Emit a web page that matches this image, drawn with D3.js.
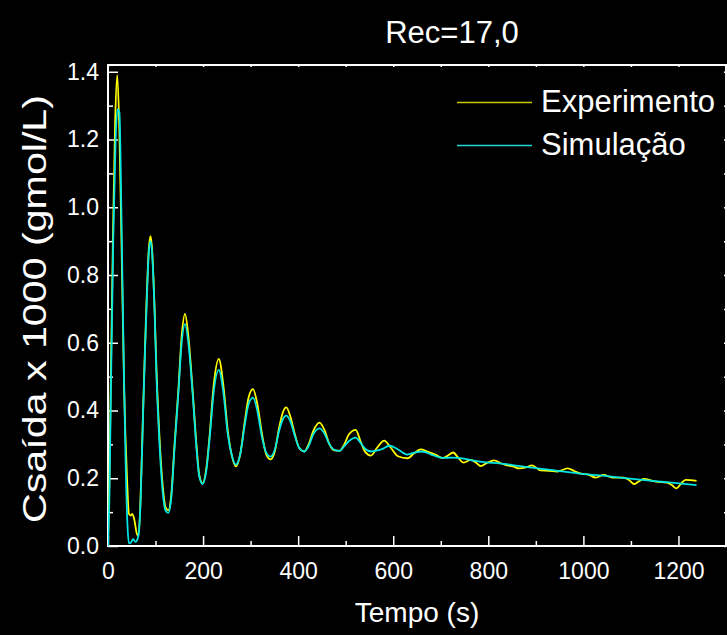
<!DOCTYPE html>
<html>
<head>
<meta charset="utf-8">
<script src="https://cdn.jsdelivr.net/npm/d3@7"></script>
<style>
  body { margin: 0; background: #000; }
  text { font-family: "Liberation Sans", Arial, sans-serif; fill: #fff; }
</style>
</head>
<body>
<div id="chart"></div>
<script>
// Rec=17,0 - experimento x simulação
var title = "Rec=17,0";
var seriesNames = ["Experimento", "Simulação"];

var timeExp = [0, 3, 6, 11, 15, 19.5, 24, 29, 34, 40, 44, 48, 51, 55, 61, 64, 68, 73, 77, 81, 86, 89.5, 93, 98, 102,
  108, 115, 121, 127, 133, 140, 148, 155, 162, 169, 178, 186, 192, 199, 206, 214, 222, 233, 243, 252, 260, 269,
  278, 288, 296, 305, 314, 324, 333, 342, 351, 360, 368, 375, 383, 393, 402, 413, 422, 432, 445, 456, 466, 476,
  487, 497, 507, 521, 531, 541, 553, 566, 581, 595, 610, 630, 645, 658, 672, 690, 704, 716, 726, 737, 748, 763,
  775, 784, 797, 812, 825, 837, 852, 865, 879, 892, 910, 928, 945, 967, 980, 991, 1012, 1026, 1043, 1061, 1085,
  1096, 1107, 1118, 1127, 1152, 1176, 1186, 1196, 1206, 1215, 1238];
var valExp = [0, 0.2, 0.5, 0.96, 1.25, 1.39, 1.22, 0.85, 0.46, 0.2, 0.095, 0.09, 0.095, 0.08, 0.035, 0.03, 0.12,
  0.36, 0.55, 0.72, 0.88, 0.915, 0.87, 0.7, 0.52, 0.33, 0.18, 0.115, 0.105, 0.15, 0.3, 0.46, 0.62, 0.685, 0.62,
  0.46, 0.3, 0.21, 0.185, 0.22, 0.33, 0.47, 0.552, 0.47, 0.34, 0.27, 0.235, 0.27, 0.37, 0.44, 0.463, 0.42, 0.33,
  0.27, 0.256, 0.28, 0.35, 0.395, 0.409, 0.385, 0.33, 0.29, 0.279, 0.3, 0.34, 0.364, 0.34, 0.3, 0.282, 0.281,
  0.3, 0.33, 0.343, 0.31, 0.278, 0.267, 0.29, 0.311, 0.29, 0.265, 0.259, 0.275, 0.285, 0.279, 0.269, 0.26,
  0.268, 0.276, 0.26, 0.246, 0.254, 0.245, 0.236, 0.245, 0.253, 0.245, 0.239, 0.235, 0.229, 0.232, 0.238,
  0.223, 0.222, 0.22, 0.229, 0.222, 0.215, 0.21, 0.202, 0.21, 0.202, 0.202, 0.195, 0.183, 0.192, 0.198, 0.19,
  0.187, 0.18, 0.17, 0.185, 0.195, 0.192];

var timeSim = [0, 3, 6, 11, 16, 20, 24, 28, 33, 37, 41, 44, 48, 53, 58, 62, 65, 69, 74, 78, 82, 86, 89.5, 93, 98,
  102, 108, 115, 121, 127, 133, 140, 148, 155, 162, 169, 178, 186, 192, 199, 206, 214, 222, 233, 243, 252, 260,
  269, 278, 288, 296, 305, 314, 324, 333, 342, 351, 360, 368, 375, 383, 393, 402, 413, 422, 432, 445, 456, 466,
  476, 487, 497, 507, 521, 531, 541, 553, 575, 592, 610, 630, 645, 662, 680, 704, 725, 745, 770, 795, 823, 851,
  886, 930, 998, 1050, 1103, 1170, 1238];
var valSim = [0, 0.15, 0.45, 0.9, 1.2, 1.29, 1.28, 1.0, 0.55, 0.25, 0.06, 0.008, 0.01, 0.02, 0.012, 0.02, 0.04,
  0.15, 0.4, 0.58, 0.74, 0.87, 0.9, 0.86, 0.69, 0.5, 0.31, 0.16, 0.105, 0.098, 0.14, 0.29, 0.45, 0.6, 0.655,
  0.6, 0.45, 0.29, 0.205, 0.183, 0.215, 0.32, 0.45, 0.52, 0.45, 0.33, 0.27, 0.24, 0.27, 0.36, 0.42, 0.438, 0.4,
  0.32, 0.275, 0.264, 0.285, 0.34, 0.375, 0.385, 0.37, 0.325, 0.29, 0.279, 0.295, 0.33, 0.347, 0.33, 0.3, 0.284,
  0.281, 0.295, 0.31, 0.32, 0.305, 0.287, 0.279, 0.285, 0.296, 0.285, 0.27, 0.276, 0.279, 0.27, 0.26, 0.261,
  0.259, 0.252, 0.247, 0.244, 0.239, 0.232, 0.225, 0.213, 0.206, 0.198, 0.189, 0.18];

var xMajor = [0, 200, 400, 600, 800, 1000, 1200];
var xMinor = [100, 300, 500, 700, 900, 1100, 1300];
var yMajor = [0, 0.2, 0.4, 0.6, 0.8, 1.0, 1.2, 1.4];
var yMinor = [0.1, 0.3, 0.5, 0.7, 0.9, 1.1, 1.3];

var width = 727, height = 635;
var plotL = 108, plotR = 726, plotT = 65, plotB = 546;

var svg = d3.select("#chart").append("svg")
  .attr("width", width)
  .attr("height", height)
  .style("background", "#000");

var x = d3.scaleLinear().domain([0, 1300]).range([plotL, plotR]);
var y = d3.scaleLinear().domain([0, 1.42]).range([plotB, plotT]);

// clip
svg.append("clipPath").attr("id", "plot")
  .append("rect").attr("x", plotL).attr("y", plotT).attr("width", plotR - plotL).attr("height", plotB - plotT);

function styleAxis(g) {
  g.select(".domain").remove();
  g.selectAll("line").attr("stroke", "#fff").attr("stroke-width", 1.5);
  g.selectAll("text").style("font-size", "23px").attr("fill", "#fff");
}

// bottom axis
svg.append("g").attr("transform", "translate(0," + plotB + ")")
  .call(d3.axisBottom(x).tickValues(xMajor).tickSize(-10).tickPadding(17).tickFormat(d3.format("d")))
  .call(styleAxis);
svg.append("g").attr("transform", "translate(0," + plotB + ")")
  .call(d3.axisBottom(x).tickValues(xMinor).tickSize(-5).tickFormat(""))
  .call(styleAxis);
// left axis
svg.append("g").attr("transform", "translate(" + plotL + ",0)")
  .call(d3.axisLeft(y).tickValues(yMajor).tickSize(-10).tickPadding(9).tickFormat(d3.format(".1f")))
  .call(styleAxis);
svg.append("g").attr("transform", "translate(" + plotL + ",0)")
  .call(d3.axisLeft(y).tickValues(yMinor).tickSize(-5).tickFormat(""))
  .call(styleAxis);
// top / right small ticks
svg.append("g").attr("transform", "translate(0," + plotT + ")")
  .call(d3.axisTop(x).tickValues(xMajor.concat(xMinor)).tickSize(-2).tickFormat(""))
  .call(styleAxis);
svg.append("g").attr("transform", "translate(" + plotR + ",0)")
  .call(d3.axisRight(y).tickValues(yMajor.concat(yMinor)).tickSize(-2).tickFormat(""))
  .call(styleAxis);

// frame
svg.append("rect")
  .attr("x", plotL).attr("y", plotT)
  .attr("width", plotR - plotL).attr("height", plotB - plotT)
  .attr("fill", "none").attr("stroke", "#fff").attr("stroke-width", 2);

var line = d3.line()
  .x(function (d) { return x(d[0]); })
  .y(function (d) { return y(d[1]); })
  .curve(d3.curveMonotoneX);

var colors = ["#ffff00", "#00e5e5"];
var series = [d3.zip(timeExp, valExp), d3.zip(timeSim, valSim)];

svg.append("g").attr("clip-path", "url(#plot)")
  .selectAll("path")
  .data(series)
  .enter().append("path")
  .attr("d", line)
  .attr("fill", "none")
  .attr("stroke", function (d, i) { return colors[i]; })
  .attr("stroke-width", 1.8);

// legend
var legendColors = ["#c8c800", "#20d8d8"];
var legend = svg.append("g");
seriesNames.forEach(function (name, i) {
  var ly = 102 + i * 43;
  legend.append("line")
    .attr("x1", 457).attr("x2", 532)
    .attr("y1", ly + 0.5).attr("y2", ly + 0.5)
    .attr("stroke", legendColors[i]).attr("stroke-width", 1.5);
  legend.append("text")
    .attr("x", 541).attr("y", ly + 10)
    .style("font-size", "31px")
    .text(name);
});

// title and axis labels
svg.append("text")
  .attr("x", 452).attr("y", 43)
  .attr("text-anchor", "middle")
  .style("font-size", "31px")
  .text(title);

svg.append("text")
  .attr("x", (plotL + plotR) / 2).attr("y", 622)
  .attr("text-anchor", "middle")
  .style("font-size", "28px")
  .text("Tempo (s)");

svg.append("text")
  .attr("transform", "translate(46,309) rotate(-90)")
  .attr("text-anchor", "middle")
  .attr("textLength", 428)
  .attr("lengthAdjust", "spacingAndGlyphs")
  .style("font-size", "33px")
  .text("Csaída x 1000 (gmol/L)");
</script>
</body>
</html>
